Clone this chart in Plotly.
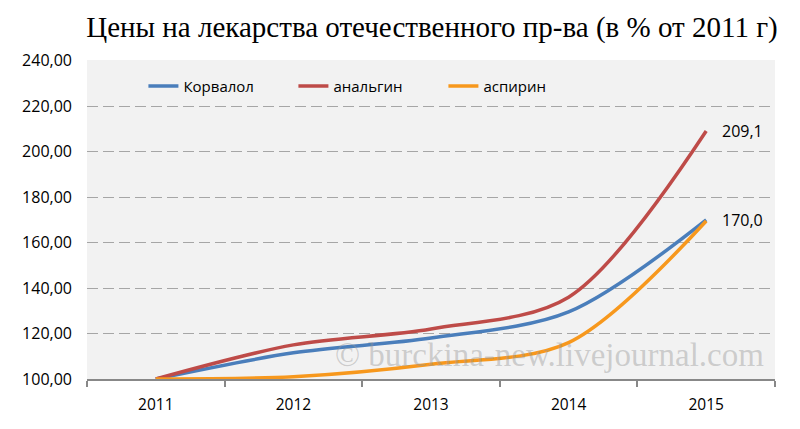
import plotly.graph_objects as go

years = ["2011", "2012", "2013", "2014", "2015"]
korvalol = [100.0, 111.5, 118.0, 129.5, 170.0]
analgin = [100.0, 115.0, 122.0, 136.0, 209.1]
aspirin = [100.0, 101.0, 106.5, 116.0, 169.5]
end_labels = ["209,1", "170,0"]

series = [
    ("Корвалол", korvalol, "#4A7EBB"),
    ("анальгин", analgin, "#BE4B48"),
    ("аспирин", aspirin, "#F7981D"),
]

fig = go.Figure()
for name, vals, color in series:
    fig.add_trace(go.Scatter(
        x=years, y=vals, name=name, mode="lines",
        line=dict(color=color, width=3.5, shape="spline", smoothing=0.9),
    ))

# value labels at the last point (x given as category index)
last = len(years) - 1
fig.add_annotation(x=last, y=analgin[-1], text=end_labels[0], showarrow=False,
                   xanchor="left", xshift=14, font=dict(size=16, color="#000"))
fig.add_annotation(x=last, y=korvalol[-1], text=end_labels[1], showarrow=False,
                   xanchor="left", xshift=14, font=dict(size=16, color="#000"))

# watermark
fig.add_annotation(xref="paper", yref="paper", x=0.672, y=0.075,
                   xanchor="center", yanchor="middle",
                   text="© burckina-new.livejournal.com", showarrow=False,
                   font=dict(family="Liberation Serif, DejaVu Serif, serif", size=33,
                             color="rgba(150,150,150,0.42)"))

# page body has an 8px margin, so margins are shifted by 8px
fig.update_layout(
    width=800, height=429,
    margin=dict(l=79, r=33, t=52, b=58, autoexpand=False),
    paper_bgcolor="white",
    plot_bgcolor="#F2F2F2",
    separators=", ",
    font=dict(family="Open Sans, Liberation Sans, sans-serif", size=13, color="#000"),
    title=dict(text="Цены на лекарства отечественного пр-ва (в % от 2011 г)",
               x=0.53, xanchor="center", y=0.955, yanchor="middle",
               font=dict(family="Liberation Serif, DejaVu Serif, serif", size=29, color="#000")),
    legend=dict(orientation="h", x=0.082, y=0.918, xanchor="left", yanchor="middle",
                bgcolor="rgba(0,0,0,0)", entrywidth=105, font=dict(size=15)),
    showlegend=True,
)

fig.update_xaxes(
    type="category", categoryorder="array", categoryarray=years,
    range=[-0.5, len(years) - 0.5],
    tickson="boundaries", ticks="outside", ticklen=6, tickangle=0,
    tickcolor="#888", tickwidth=2, showline=True, linecolor="#888", linewidth=2,
    showgrid=False, ticklabelstandoff=10, tickfont=dict(size=15.5),
)
fig.update_yaxes(
    range=[100, 240.3], dtick=20, tickformat=".2f",
    showgrid=True, gridcolor="#A6A6A6", griddash="11px,5px", gridwidth=1,
    zeroline=False, showline=False, ticks="", ticklabelstandoff=14,
    tickfont=dict(size=16),
)

fig.write_html("out.html")
